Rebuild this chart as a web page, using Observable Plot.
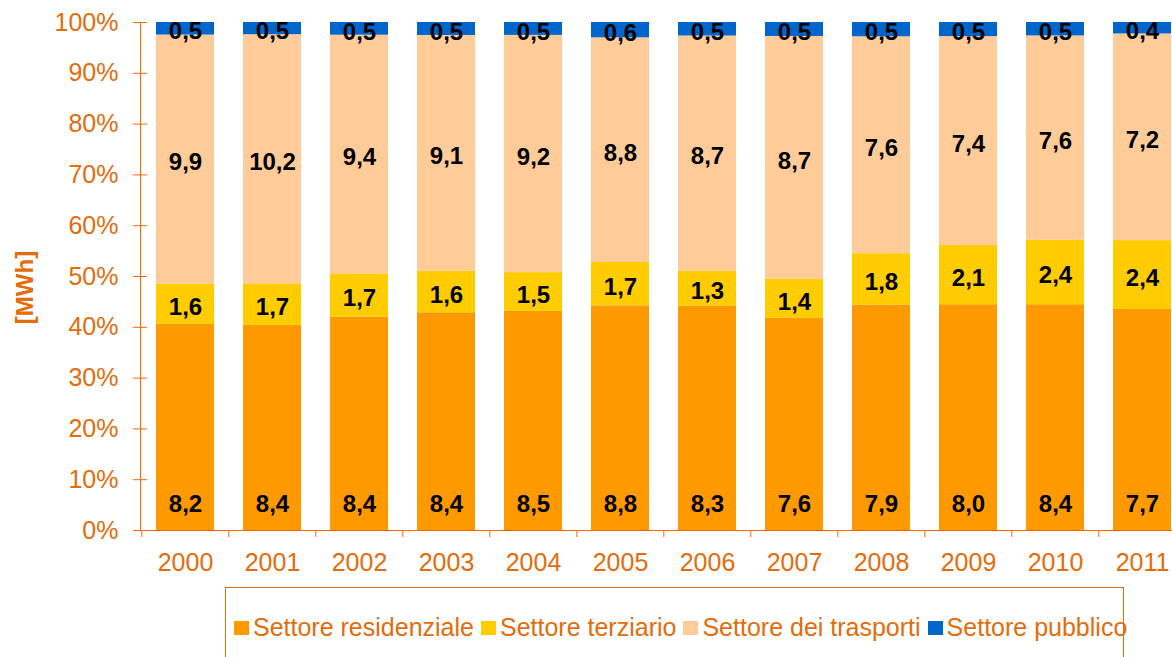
<!DOCTYPE html>
<html>
<head>
<meta charset="utf-8">
<script src="https://cdn.jsdelivr.net/npm/d3@7"></script>
<script src="https://cdn.jsdelivr.net/npm/@observablehq/plot@0.6"></script>
<style>
  html, body { margin: 0; padding: 0; background: #fff; overflow: hidden; width: 1172px; height: 657px; }
  #legend {
    box-sizing: border-box;
    margin-left: 225px; width: 899px; height: 100px;
    border: 1.5px solid #E46C0A;
    padding: 25px 0 0 8px;
    display: flex; align-items: flex-start;
    font-family: "Liberation Sans", Arial, sans-serif; font-size: 25px; color: #E46C0A;
    white-space: nowrap; overflow: visible;
  }
  #legend .item { display: flex; align-items: center; margin-right: 7px; line-height: 28px; }
  #legend .sw { width: 15px; height: 14px; margin-right: 4px; margin-top: 2px; }
</style>
</head>
<body>
<div id="chart"></div>
<div id="legend"></div>
<script>
const years = ["2000","2001","2002","2003","2004","2005","2006","2007","2008","2009","2010","2011"];
const sectors = ["Settore residenziale","Settore terziario","Settore dei trasporti","Settore pubblico"];
const colors = ["#FF9900","#FFCC00","#FFCC99","#0066CC"];
const residenziale = [8.2, 8.4, 8.4, 8.4, 8.5, 8.8, 8.3, 7.6, 7.9, 8.0, 8.4, 7.7];
const terziario    = [1.6, 1.7, 1.7, 1.6, 1.5, 1.7, 1.3, 1.4, 1.8, 2.1, 2.4, 2.4];
const trasporti    = [9.9, 10.2, 9.4, 9.1, 9.2, 8.8, 8.7, 8.7, 7.6, 7.4, 7.6, 7.2];
const pubblico     = [0.5, 0.5, 0.5, 0.5, 0.5, 0.6, 0.5, 0.5, 0.5, 0.5, 0.5, 0.4];
const yTicks = [0, 0.1, 0.2, 0.3, 0.4, 0.5, 0.6, 0.7, 0.8, 0.9, 1.0];
const yLabel = "[MWh]";

const series = [residenziale, terziario, trasporti, pubblico];
const rows = [];
sectors.forEach((s, i) => years.forEach((y, j) => rows.push({year: y, sector: s, value: series[i][j]})));
const fmt = v => v.toFixed(1).replace(".", ",");

const W = 1188, H = 587, mL = 140, mR = 0, mT = 22, mB = 57;
const step = (W - mL - mR) / years.length;
const axisStroke = "#FF6600", textColor = "#E46C0A";
const font = "'Liberation Sans', Arial, sans-serif";

const plot = Plot.plot({
  width: W, height: H,
  marginLeft: mL, marginRight: mR, marginTop: mT, marginBottom: mB,
  style: {fontFamily: font, maxWidth: "none", background: "#fff", overflow: "visible"},
  x: {domain: years, paddingInner: 0.33, paddingOuter: 0.165, label: null},
  y: {domain: [0, 1], label: null},
  color: {domain: sectors, range: colors},
  marks: [
    Plot.barY(rows, Plot.stackY({x: "year", y: "value", z: "sector", fill: "sector", offset: "normalize"})),
    Plot.text(rows, Plot.stackY({
      x: "year", y: "value", z: "sector", offset: "normalize",
      text: d => d.sector === sectors[0] ? null : fmt(d.value),
      fontSize: 24, fontWeight: "bold", fill: "#000", dy: 3
    })),
    Plot.text(rows.filter(d => d.sector === sectors[0]), {
      x: "year", text: d => fmt(d.value), frameAnchor: "bottom", dy: -19,
      fontSize: 24, fontWeight: "bold", fill: "#000"
    }),
    Plot.ruleY([0], {stroke: axisStroke}),
    Plot.frame({anchor: "left", stroke: axisStroke}),
    Plot.axisY({ticks: yTicks, tickFormat: d3.format(".0%"), tickSize: 14, dx: 7, tickPadding: 15,
      stroke: axisStroke, fill: textColor, fontSize: 25, label: null}),
    Plot.axisX({tickSize: 7, dx: -step / 2, text: null, stroke: axisStroke, label: null}),
    Plot.axisX({tickSize: 0, tickPadding: 23, fill: textColor, fontSize: 25, label: null}),
    Plot.text([yLabel], {text: d => d, frameAnchor: "left", textAnchor: "middle", dx: -115, dy: 11, rotate: -90,
      fontSize: 24, fontWeight: "bold", fill: textColor})
  ]
});
document.getElementById("chart").appendChild(plot);

const legend = document.getElementById("legend");
sectors.forEach((s, i) => {
  const it = document.createElement("div");
  it.className = "item";
  const sw = document.createElement("div");
  sw.className = "sw";
  sw.style.background = colors[i];
  const tx = document.createElement("span");
  tx.textContent = s;
  it.appendChild(sw); it.appendChild(tx);
  legend.appendChild(it);
});
</script>
</body>
</html>
